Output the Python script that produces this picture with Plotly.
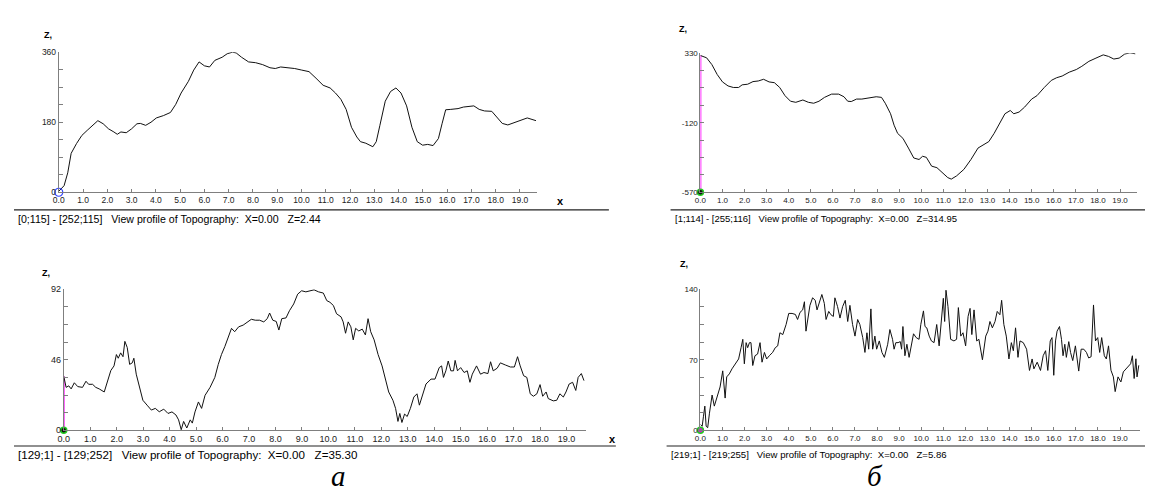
import plotly.graph_objects as go

W, H = 1153, 490

# ---------------- data ----------------
P1_X = [0, 0.22, 0.37, 0.51, 0.73, 0.95, 1.17, 1.32, 1.46, 1.61, 1.83, 2.05, 2.27, 2.41, 2.56, 2.78,
        3.0, 3.22, 3.36, 3.58, 3.8, 4.02, 4.31, 4.6, 4.82, 5.04, 5.34, 5.56, 5.78, 6.0, 6.21, 6.43,
        6.73, 6.94, 7.16, 7.31, 7.53, 7.82, 8.11, 8.4, 8.7, 8.92, 9.14, 9.43, 9.72, 10.01, 10.31,
        10.6, 10.89, 11.18, 11.4, 11.62, 11.84, 12.06, 12.28, 12.43, 12.65, 12.94, 13.08, 13.23,
        13.45, 13.67, 13.89, 14.1, 14.33, 14.55, 14.77, 14.99, 15.2, 15.42, 15.64, 15.79, 15.94,
        16.15, 16.45, 16.67, 16.96, 17.1, 17.32, 17.54, 17.84, 18.05, 18.27, 18.5, 18.79, 19.08,
        19.3, 19.66]
P1_Z = [2.44, 17, 50, 100, 125, 146, 159, 167, 176, 184, 176, 163, 155, 149, 155, 153,
        163, 176, 177, 172, 180, 191, 197, 205, 226, 255, 285, 314, 335, 325, 322, 339,
        347, 356, 360, 358, 347, 335, 333, 328, 320, 318, 322, 320, 318, 314, 310,
        293, 275, 268, 255, 239, 213, 167, 142, 130, 126, 117, 130, 172,
        234, 259, 268, 255, 222, 167, 130, 121, 123, 120, 138, 176, 212,
        213, 215, 219, 220, 222, 213, 209, 208, 192, 177, 173, 180, 187,
        191, 184]

P2_X = [0, 0.28, 0.52, 0.76, 1.0, 1.25, 1.49, 1.73, 1.89, 2.14, 2.38, 2.62, 2.86, 3.11, 3.35, 3.59,
        3.83, 4.08, 4.32, 4.64, 4.89, 5.13, 5.37, 5.62, 5.94, 6.26, 6.5, 6.67, 6.83, 7.07, 7.31,
        7.64, 7.96, 8.2, 8.37, 8.61, 8.77, 8.93, 9.17, 9.42, 9.66, 9.9, 10.06, 10.23, 10.47, 10.71,
        10.95, 11.2, 11.36, 11.6, 11.93, 12.25, 12.57, 12.82, 13.06, 13.3, 13.54, 13.79, 14.03,
        14.19, 14.43, 14.68, 15.0, 15.24, 15.57, 15.89, 16.13, 16.38, 16.7, 17.02, 17.27, 17.59,
        17.91, 18.24, 18.48, 18.72, 18.96, 19.21, 19.45, 19.69]
P2_Z = [314.95, 300, 256, 192, 144, 118, 108, 108, 125, 129, 146, 150, 161, 144, 139, 108,
        55, 19, 12, 27, 12, 6, 19, 44, 65, 65, 48, 19, 17, 33, 33,
        40, 48, 44, 6, -62, -136, -189, -221, -284, -348, -358, -337, -344, -401, -411,
        -443, -475, -485, -464, -422, -358, -284, -263, -242, -189, -125, -62, -41,
        -62, -51, -19, 33, 55, 108, 154, 171, 182, 207, 224, 245, 277,
        298, 319, 309, 292, 298, 324, 332, 326]

P3_X = [0, 0.09, 0.19, 0.28, 0.4, 0.53, 0.71, 0.84, 0.94, 1.09,
        1.21, 1.34, 1.53, 1.65, 1.78, 1.9, 1.99, 2.06, 2.15, 2.24,
        2.31, 2.4, 2.49, 2.59, 2.65, 2.74, 2.86, 2.99, 3.15, 3.31,
        3.46, 3.61, 3.78, 3.94, 4.09, 4.24, 4.34, 4.44, 4.53, 4.65,
        4.78, 4.86, 4.96, 5.09, 5.21, 5.34, 5.53, 5.71, 5.84, 5.96,
        6.09, 6.21, 6.34, 6.46, 6.61, 6.78, 6.96, 7.09, 7.24, 7.4,
        7.56, 7.69, 7.78, 7.9, 8.03, 8.13, 8.24, 8.4, 8.53, 8.69,
        8.84, 8.99, 9.15, 9.34, 9.46, 9.63, 9.81, 9.94, 10.06, 10.19,
        10.31, 10.48, 10.56, 10.65, 10.75, 10.85, 10.94, 11.03, 11.15, 11.28,
        11.4, 11.5, 11.6, 11.73, 11.88, 12.03, 12.15, 12.28, 12.44, 12.54,
        12.63, 12.7, 12.78, 12.88, 12.98, 13.1, 13.23, 13.35, 13.44, 13.56,
        13.69, 13.88, 14.03, 14.19, 14.28, 14.35, 14.44, 14.53, 14.63, 14.73,
        14.79, 14.88, 15.0, 15.13, 15.25, 15.35, 15.44, 15.6, 15.75, 15.88,
        16.03, 16.13, 16.23, 16.38, 16.5, 16.69, 16.88, 17.03, 17.15, 17.25,
        17.38, 17.5, 17.63, 17.75, 17.88, 18.0, 18.1, 18.23, 18.31, 18.5,
        18.63, 18.75, 18.88, 18.98, 19.1, 19.23, 19.35, 19.44, 19.56, 19.66]
P3_Z = [35.3, 28, 29, 27, 31, 28.5, 28, 32, 30, 30,
        28, 27, 25, 32, 39, 42, 49.4, 47, 50.5, 48,
        58, 54, 43, 44, 47, 36.6, 28, 19.6, 16.4, 13.2,
        14.3, 12.1, 13.8, 11, 12, 10, 6.8, 0.4, 5.8, 1.5,
        6.8, 4.7, 12, 18.5, 14.3, 22.8, 28, 34.5, 43, 49.4,
        54.7, 60, 66.5, 64.3, 67.5, 68.6, 70.7, 72.4, 71.8, 71.8,
        70.7, 72.8, 76.5, 71.8, 71, 65.4, 72.8, 73.3, 78, 82.4,
        88.8, 91, 90.3, 91, 91.6, 90.3, 89.5, 84.6, 83.5, 81.4,
        76, 74, 70.7, 63.3, 70.7, 67.5, 59, 66.5, 64.8, 66,
        62.2, 72.8, 64.3, 59, 49.4, 42, 34.5, 25, 19.6, 14.3,
        5.8, 11, 5.1, 10.6, 9, 14.3, 21.7, 23.8, 16.4, 23.8,
        30.2, 33.4, 33.4, 40.9, 42, 34.5, 38.8, 45.2, 38.8, 38.8,
        45.6, 38.8, 40.9, 37.7, 38.8, 31.3, 36.6, 42, 36.6, 37.7,
        37, 44.7, 38.8, 40.5, 44, 42.6, 41.3, 41.3, 48, 42,
        35.6, 34.5, 23.8, 22.2, 23.8, 29.8, 22.2, 25, 20.7, 19.2,
        19.6, 23.8, 21.7, 25, 30.2, 31.3, 26, 34.5, 37, 32.4]

P4_X = [0, 0.08, 0.14, 0.2, 0.26, 0.33, 0.41, 0.53, 0.63, 0.75,
        0.89, 1.01, 1.12, 1.19, 1.31, 1.43, 1.61, 1.73, 1.84, 1.92,
        1.99, 2.07, 2.14, 2.22, 2.29, 2.37, 2.47, 2.59, 2.7, 2.79,
        2.9, 3.0, 3.12, 3.27, 3.39, 3.5, 3.6, 3.73, 3.88, 4.0,
        4.15, 4.3, 4.4, 4.51, 4.63, 4.71, 4.78, 4.87, 4.96, 5.08,
        5.2, 5.28, 5.38, 5.5, 5.61, 5.69, 5.81, 5.91, 6.02, 6.09,
        6.21, 6.32, 6.44, 6.56, 6.67, 6.77, 6.89, 7.0, 7.12, 7.22,
        7.35, 7.45, 7.54, 7.62, 7.72, 7.8, 7.9, 7.98, 8.1, 8.22,
        8.33, 8.48, 8.58, 8.7, 8.77, 8.85, 8.95, 9.05, 9.11, 9.17,
        9.26, 9.35, 9.45, 9.56, 9.65, 9.77, 9.9, 9.98, 10.1, 10.17,
        10.25, 10.36, 10.46, 10.58, 10.7, 10.81, 10.91, 11.0, 11.06, 11.12,
        11.21, 11.33, 11.48, 11.6, 11.68, 11.79, 11.89, 12.01, 12.12, 12.21,
        12.29, 12.39, 12.51, 12.61, 12.77, 12.92, 13.02, 13.11, 13.22, 13.34,
        13.44, 13.56, 13.64, 13.74, 13.85, 13.97, 14.08, 14.17, 14.27, 14.38,
        14.47, 14.62, 14.77, 14.9, 15.02, 15.1, 15.25, 15.4, 15.52, 15.63,
        15.73, 15.84, 15.92, 16.0, 16.08, 16.15, 16.26, 16.35, 16.42, 16.5,
        16.57, 16.68, 16.76, 16.86, 16.98, 17.06, 17.13, 17.24, 17.36, 17.48,
        17.58, 17.69, 17.76, 17.8, 17.89, 17.99, 18.08, 18.17, 18.29, 18.38,
        18.48, 18.59, 18.7, 18.78, 18.91, 19.04, 19.15, 19.32, 19.48, 19.56,
        19.64, 19.72, 19.77, 19.85]
P4_Z = [5.86, 4, 14, 24, 4, 2.6, 17, 35, 24, 33.5,
        43, 59, 32, 53, 56, 61, 67.6, 70.8, 82, 90.3,
        66, 87, 82, 87, 87, 64.3, 74, 75.7, 87, 67.6,
        77.3, 70.8, 74, 77.3, 82, 83.8, 96.8, 95, 105, 116,
        116, 115, 110, 117, 119.5, 127.6, 98.4, 111, 124, 131.5,
        129, 119.5, 127.6, 134.8, 126, 110, 118, 114.7, 113, 131.5,
        122.8, 111.4, 122.8, 129, 108, 124, 105, 93.5, 110, 105,
        92, 77.3, 96.8, 80.5, 120.5, 80.5, 93.5, 80.5, 88.7, 77.3,
        72.4, 85.4, 100, 90.3, 80.5, 87, 87, 88, 80.5, 103,
        74, 85.4, 72.4, 85.4, 95.8, 92, 90.3, 105, 118.5, 103,
        101.7, 93.5, 88.7, 87, 105, 83.8, 110, 131, 108, 139,
        122.8, 90.3, 88.7, 90.3, 121.8, 93.5, 96.8, 83.8, 113, 121,
        95, 119.5, 88.7, 90.3, 70, 93.5, 98.4, 108, 101.7, 108,
        118, 114.7, 129, 105, 93.5, 70.8, 87, 79, 101.7, 72.4,
        88.7, 87, 80.5, 59.4, 70.8, 61, 67.6, 59.4, 74, 79,
        59.4, 88.7, 92, 54.6, 88.7, 98.4, 103, 90.3, 74, 85.4,
        72.4, 88, 77.3, 69.2, 83.8, 70.8, 58.8, 80.5, 80.5, 77.3,
        71.8, 73, 113, 124.4, 88.7, 92, 77.3, 92, 74, 70.8,
        83.8, 59.6, 53, 38.4, 53, 48, 58, 61.9, 66, 74,
        51.4, 71, 53, 64.5]

X_TICK_VALUES = list(range(20))
X_TICK_LABELS = [f"{v}.0" for v in X_TICK_VALUES]

CAPTIONS = [
    "[0;115] - [252;115]   View profile of Topography:  X=0.00   Z=2.44",
    "[1;114] - [255;116]   View profile of Topography:  X=0.00   Z=314.95",
    "[129;1] - [129;252]   View profile of Topography:  X=0.00   Z=35.30",
    "[219;1] - [219;255]   View profile of Topography:  X=0.00   Z=5.86",
]
Y_MIN = [0, -570, 0, 0]
Y_MAX = [360, 330, 92, 140]
START_Z = [2.44, 314.95, 35.30, 5.86]
PANEL_LETTERS = ["а", "б"]

# ---------------- layout (pixel geometry) ----------------
panels = [
    dict(x=P1_X, z=P1_Z, left=45, ppu=24.4, xmax=19.7, top=40, bot=183, tfs=8.5, cfs=10.6,
         zlab=(34, 22), xlab=(549, 192), sep=(0, 598, 201), cap=(2, 210), marker="blue", vline=False),
    dict(x=P2_X, z=P2_Z, left=690, ppu=22.2, xmax=19.75, top=41, bot=183, tfs=8, cfs=9.5,
         zlab=(673, 16), xlab=(1143, 192), sep=(660, 1153, 201), cap=(662, 210), marker="green", vline=True),
    dict(x=P3_X, z=P3_Z, left=50, ppu=26.6, xmax=19.72, top=282, bot=426, tfs=9, cfs=11.6,
         zlab=(32, 265), xlab=(602, 435), sep=(0, 605, 442), cap=(2, 451), marker="green", vline=True),
    dict(x=P4_X, z=P4_Z, left=690, ppu=22.2, xmax=19.9, top=282, bot=426, tfs=8, cfs=9.6,
         zlab=(674, 256), xlab=(1143, 435), sep=(656, 1153, 442), cap=(658, 451), marker="magenta", vline=False),
]

FONT = "Liberation Sans, Arial, sans-serif"
AXIS_COL = "#7f7f7f"

fig = go.Figure()
layout = dict(
    width=W, height=H, margin=dict(l=0, r=0, t=0, b=0),
    paper_bgcolor="white", plot_bgcolor="white", showlegend=False,
    annotations=[], shapes=[],
)


def px_x(p):
    return p / W


def px_y(p):
    return 1 - p / H


for i, p in enumerate(panels):
    n = "" if i == 0 else str(i + 1)
    xa, ya = "x" + n, "y" + n
    ymin, ymax = Y_MIN[i], Y_MAX[i]
    xdom = [px_x(p["left"]), px_x(p["left"] + p["ppu"] * p["xmax"])]
    ydom = [px_y(p["bot"]), px_y(p["top"])]
    yvals = [ymin + k * (ymax - ymin) / 8 for k in range(9)]
    ytext = [""] * 9
    ytext[0], ytext[4], ytext[8] = str(ymin), str(int((ymin + ymax) / 2)), str(ymax)
    layout["xaxis" + n] = dict(
        domain=xdom, range=[0, p["xmax"]], anchor=ya, showgrid=False, zeroline=False,
        showline=True, linecolor=AXIS_COL, linewidth=1, ticks="inside", ticklen=3,
        tickcolor=AXIS_COL, tickvals=X_TICK_VALUES, ticktext=X_TICK_LABELS,
        tickfont=dict(family=FONT, size=p["tfs"], color="#222"), fixedrange=True,
    )
    layout["yaxis" + n] = dict(
        domain=ydom, range=[ymin, ymax], anchor=xa, showgrid=False, zeroline=False,
        showline=True, linecolor=AXIS_COL, linewidth=1, ticks="inside", ticklen=4,
        tickcolor=AXIS_COL, tickvals=yvals, ticktext=ytext,
        tickfont=dict(family=FONT, size=p["tfs"], color="#222"), fixedrange=True,
    )
    if p["vline"]:
        fig.add_trace(go.Scatter(x=[0, 0], y=[ymin, START_Z[i]], mode="lines",
                                 line=dict(color="#ff33ff", width=2), xaxis=xa, yaxis=ya,
                                 hoverinfo="skip", cliponaxis=False))
    fig.add_trace(go.Scatter(x=p["x"], y=p["z"], mode="lines",
                             line=dict(color="#111111", width=1), xaxis=xa, yaxis=ya,
                             cliponaxis=False))
    if p["marker"] == "blue":
        mk = dict(symbol="circle-open", size=8, color="#3344ff", line=dict(width=1.2))
    elif p["marker"] == "green":
        mk = dict(symbol="circle", size=6, color="#111111", line=dict(color="#22cc22", width=1.5))
    else:
        mk = dict(symbol="circle", size=6, color="#cc22cc", line=dict(color="#22cc22", width=1.5))
    fig.add_trace(go.Scatter(x=[0], y=[ymin], mode="markers", marker=mk,
                             xaxis=xa, yaxis=ya, cliponaxis=False, hoverinfo="skip"))

    zx, zy = p["zlab"]
    layout["annotations"].append(dict(
        x=px_x(zx), y=px_y(zy), xref="paper", yref="paper", text="<b>Z,</b>",
        showarrow=False, font=dict(family=FONT, size=9, color="black"),
        xanchor="center", yanchor="middle"))
    lx, ly = p["xlab"]
    layout["annotations"].append(dict(
        x=px_x(lx), y=px_y(ly), xref="paper", yref="paper", text="<b>x</b>",
        showarrow=False, font=dict(family=FONT, size=11, color="black"),
        xanchor="center", yanchor="middle"))
    s0, s1, sy = p["sep"]
    layout["shapes"].append(dict(
        type="line", xref="paper", yref="paper", x0=px_x(s0), x1=px_x(s1),
        y0=px_y(sy), y1=px_y(sy), line=dict(color="#222", width=1.2)))
    cx, cy = p["cap"]
    layout["annotations"].append(dict(
        x=px_x(cx), y=px_y(cy), xref="paper", yref="paper",
        text=CAPTIONS[i].replace(" ", "\u00a0"), showarrow=False,
        font=dict(family=FONT, size=p["cfs"], color="black"),
        xanchor="left", yanchor="middle"))

for letter, lx in zip(PANEL_LETTERS, [326, 866]):
    layout["annotations"].append(dict(
        x=px_x(lx), y=px_y(473), xref="paper", yref="paper",
        text=f"<i>{letter}</i>", showarrow=False,
        font=dict(family="Liberation Serif, Times New Roman, serif", size=29, color="black"),
        xanchor="center", yanchor="middle"))

fig.update_layout(**layout)
fig.write_html("out.html", config={"displayModeBar": False})
